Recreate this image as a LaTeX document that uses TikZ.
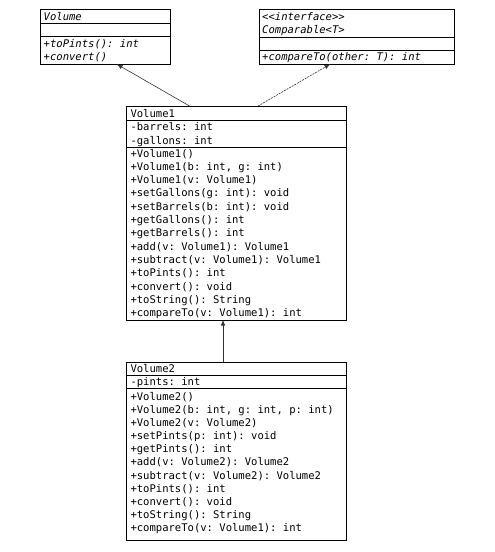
\documentclass[tikz,border=0pt]{standalone}
\usepackage{fontspec}
\setmonofont{DejaVu Sans Mono}
\usetikzlibrary{arrows.meta}
\begin{document}
\begin{tikzpicture}[x=1pt,y=-1pt,
  box/.style={draw=black, line width=0.8pt, inner sep=0pt, outer sep=0pt, anchor=north west},
  sepline/.style={draw=black, line width=0.8pt},
  txt/.style={anchor=base west, inner sep=0pt, font=\fontsize{10.55}{13}\ttfamily},
  itxt/.style={txt, font=\fontsize{10.55}{13}\ttfamily\itshape},
  gen/.style={draw=black!80, line width=0.6pt, -{Latex[length=5.5pt,width=4.5pt]}},
  real/.style={gen, dash pattern=on 2pt off 1pt}]
\useasboundingbox (0,0) rectangle (495,552);
\fill[white] (0,0) rectangle (495,552);

% Volume (abstract)
\node[box, minimum width=130pt, minimum height=55.3pt] (vol) at (40.7,9) {};
\draw[sepline] (40.7,23.3) -- (170.7,23.3);
\draw[sepline] (40.7,36.7) -- (170.7,36.7);
\node[itxt] (volt) at (43.5,20) {Volume};
\node[itxt] (volm1) at (43.5,47.2) {+toPints(): int};
\node[itxt] (volm2) at (43.5,60.5) {+convert()};

% Comparable
\node[box, minimum width=194.7pt, minimum height=55.3pt] (cmp) at (259.3,9) {};
\draw[sepline] (259.3,37) -- (454,37);
\draw[sepline] (259.3,50.3) -- (454,50.3);
\node[itxt] (cmpt1) at (262,20) {<<interface>>};
\node[itxt] (cmpt2) at (262,33.4) {Comparable<T>};
\node[itxt] (cmpm) at (262,60.5) {+compareTo(other: T): int};

% Volume1
\node[box, minimum width=219.5pt, minimum height=214pt] (v1) at (126.5,106) {};
\draw[sepline] (126.5,120.7) -- (346,120.7);
\draw[sepline] (126.5,147.3) -- (346,147.3);
\node[txt] (v1t) at (130.3,117.3) {Volume1};
\node[txt] (v1a1) at (130.3,130.7) {-barrels: int};
\node[txt] (v1a2) at (130.3,144) {-gallons: int};
\foreach \t [count=\i from 0] in {{+Volume1()},{+Volume1(b: int, g: int)},{+Volume1(v: Volume1)},{+setGallons(g: int): void},{+setBarrels(b: int): void},{+getGallons(): int},{+getBarrels(): int},{+add(v: Volume1): Volume1},{+subtract(v: Volume1): Volume1},{+toPints(): int},{+convert(): void},{+toString(): String},{+compareTo(v: Volume1): int}}
  \node[txt] (v1m\i) at (130.3,157+\i*13.3) {\t};

% Volume2
\node[box, minimum width=219.5pt, minimum height=178pt] (v2) at (126.5,362) {};
\draw[sepline] (126.5,375) -- (346,375);
\draw[sepline] (126.5,388.5) -- (346,388.5);
\node[txt] (v2t) at (130.3,372.3) {Volume2};
\node[txt] (v2a1) at (130.3,385.4) {-pints: int};
\foreach \t [count=\i from 0] in {{+Volume2()},{+Volume2(b: int, g: int, p: int)},{+Volume2(v: Volume2)},{+setPints(p: int): void},{+getPints(): int},{+add(v: Volume2): Volume2},{+subtract(v: Volume2): Volume2},{+toPints(): int},{+convert(): void},{+toString(): String},{+compareTo(v: Volume1): int}}
  \node[txt] (v2m\i) at (130.3,400+\i*13.17) {\t};

% connectors
\draw[gen] ([xshift=-46.75pt]v1.north) -- ([xshift=11.3pt]vol.south);
\draw[real] ([xshift=21.75pt]v1.north) -- ([xshift=-26.6pt]cmp.south);
\draw[gen] ([xshift=-13.25pt]v2.north) -- ([xshift=-13.25pt]v1.south);
\end{tikzpicture}
\end{document}
